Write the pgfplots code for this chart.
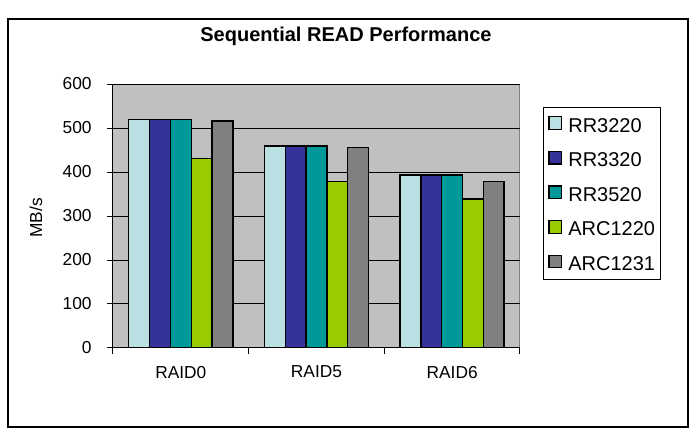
\documentclass[border=0pt]{standalone}
\usepackage{pgfplots}
\pgfplotsset{compat=1.18}
\usepackage{fontspec}
\setmainfont{Liberation Sans}

\definecolor{cRRa}{HTML}{BBE0E3}
\definecolor{cRRb}{HTML}{333399}
\definecolor{cRRc}{HTML}{009999}
\definecolor{cARCa}{HTML}{99CC00}
\definecolor{cARCb}{HTML}{808080}
\definecolor{plotbg}{HTML}{C0C0C0}

\begin{document}
\begin{tikzpicture}
  \path[use as bounding box] (0pt,0pt) rectangle (522pt,329.25pt);
  % outer chart frame
  \draw[black, line width=0.8pt] (6pt,9pt) rectangle (516pt,315pt);

  \node[font=\fontsize{15}{17}\selectfont\bfseries] at (259.5pt,302pt) {Sequential READ Performance};
  \node[rotate=90, font=\fontsize{13}{15}\selectfont] at (27pt,165.75pt) {MB/s};

  \begin{axis}[
      at={(84.75pt,68.25pt)}, anchor=south west,
      width=305.25pt, height=198pt, scale only axis,
      ybar=0pt, bar width=15.6pt,
      xmin=-0.5, xmax=2.5,
      ymin=0, ymax=600,
      ytick={0,100,...,600},
      % category separators as ticks, names as extra ticks without marks
      xtick={-0.5,0.5,1.5,2.5},
      xticklabels={},
      extra x ticks={0,1,2},
      extra x tick labels={RAID0,RAID5,RAID6},
      extra x tick style={major tick length=0pt, grid=none},
      axis lines=left,
      axis line style={-, black, line width=0.75pt},
      axis background/.style={fill=plotbg, draw=gray, line width=0.75pt},
      ymajorgrids,
      grid style={black, line width=0.75pt},
      tick align=outside,
      major tick length=4.5pt,
      tick style={black, line width=0.75pt},
      /pgf/number format/assume math mode=true,
      tick label style={font=\fontsize{13}{15}\selectfont},
      xticklabel style={yshift=-10pt},
      yticklabel style={xshift=-8pt},
      legend style={
        at={(1.0565,0.9129)}, anchor=north west,
        draw=black, line width=0.75pt, fill=white,
        font=\fontsize{15}{17}\selectfont,
        nodes={inner sep=0pt, text height=11pt, text depth=0pt},
        row sep=14pt, column sep=4.5pt,
        inner xsep=3.75pt, inner ysep=6.5pt,
        legend cell align=left,
      },
      legend image code/.code={
        \draw[#1, draw=black, line width=0.9pt] (0pt,-3.5pt) rectangle (9.5pt,6pt);
      },
    ]
    \addplot[fill=cRRa, draw=black, line width=1pt] coordinates {(0,520) (1,459) (2,393)};
    \addplot[fill=cRRb, draw=black, line width=1pt] coordinates {(0,520) (1,459) (2,393)};
    \addplot[fill=cRRc, draw=black, line width=1pt] coordinates {(0,520) (1,459) (2,393)};
    \addplot[fill=cARCa, draw=black, line width=1pt] coordinates {(0,430) (1,378) (2,339)};
    \addplot[fill=cARCb, draw=black, line width=1pt] coordinates {(0,516) (1,455) (2,378)};
    \legend{RR3220,RR3320,RR3520,ARC1220,ARC1231}
  \end{axis}
\end{tikzpicture}
\end{document}
